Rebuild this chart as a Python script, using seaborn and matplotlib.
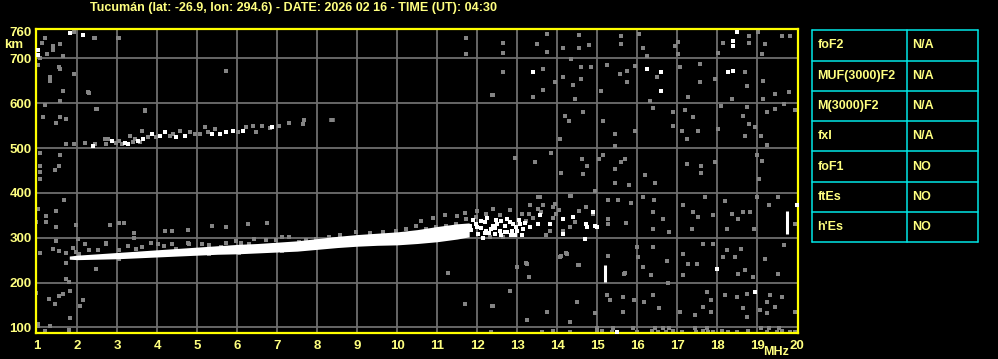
import matplotlib
matplotlib.use("Agg")
import matplotlib.pyplot as plt
import seaborn as sns
import pandas as pd

# ---------------- data ----------------
title_text = "Tucumán (lat: -26.9, lon: 294.6) - DATE: 2026 02 16 - TIME (UT): 04:30"
x_ticks = list(range(1, 21))
y_ticks = [100, 200, 300, 400, 500, 600, 700, 760]

# main F-layer trace (white band): frequency, lower and upper virtual height
trace_f = [1.8, 2.0, 2.5, 3.0, 3.5, 4.0, 4.5, 5.0, 5.5, 6.0, 6.5, 7.0, 7.5, 8.0, 8.5, 9.0, 9.5, 10.0, 10.5, 11.0, 11.5, 11.8]
trace_lo = [252, 251, 252, 253, 255, 257, 259, 261, 263, 264, 266, 268, 270, 274, 278, 281, 283, 284, 287, 291, 297, 302]
trace_hi = [259, 261, 264, 267, 270, 273, 276, 279, 282, 285, 287, 290, 293, 298, 303, 307, 310, 313, 318, 325, 331, 333]

# weak echoes around main trace
halo_f = [1.97, 2.30, 2.51, 2.72, 3.05, 3.26, 3.47, 3.63, 3.84, 4.01, 4.18, 4.38, 4.47, 4.76, 4.80, 5.13, 5.30, 5.59,
          5.72, 5.97, 6.09, 6.30, 6.43, 6.72, 6.97, 7.13, 7.30, 7.55, 7.72, 7.97, 8.30, 8.43, 3.05, 4.30, 5.30, 6.05,
          7.13, 2.05, 8.57, 8.98, 9.32, 9.65, 9.98, 10.23, 10.48, 10.73, 10.98, 11.23, 11.48,
          10.60, 10.90, 11.20, 11.50, 11.70, 12.00, 12.40, 13.30, 13.60, 13.90]
halo_h = [268, 273, 272, 288, 272, 281, 275, 279, 288, 287, 281, 287, 275, 288, 285, 287, 283, 279,
          288, 292, 288, 287, 298, 294, 294, 301, 301, 290, 294, 298, 301, 298, 252, 264, 264, 266,
          270, 264, 307, 312, 310, 312, 316, 320, 325, 320, 324, 327, 331,
          338, 345, 350, 348, 356, 360, 365, 352, 358, 345]

# spread echoes at the top of the trace
spread_w_f = [11.65, 11.82, 11.98, 12.03, 12.19, 12.23, 12.40, 12.48, 12.57, 12.69, 12.82, 12.86, 12.98, 13.07, 13.15,
              13.32, 13.52, 13.57, 13.82, 14.15, 14.40, 14.73, 14.94, 14.69, 14.39, 14.90, 14.74, 14.15, 14.70, 14.99,
              12.10, 12.30, 12.60, 12.75, 12.95, 12.15, 12.45,
              11.85, 11.90, 12.00, 12.10, 12.20, 12.25, 12.35, 12.45, 12.50, 12.60, 12.70, 12.75, 12.85, 12.90,
              13.00, 13.05, 13.12, 13.20]
spread_w_h = [316, 327, 331, 309, 335, 316, 327, 340, 316, 327, 335, 316, 324, 331, 320,
              324, 331, 350, 331, 342, 346, 331, 327, 298, 346, 357, 324, 309, 298, 324,
              322, 311, 305, 312, 306, 300, 322,
              318, 340, 324, 338, 310, 344, 320, 308, 330, 338, 312, 342, 306, 330,
              314, 340, 306, 332]
spread_g_f = [11.98, 12.23, 12.57, 12.82, 13.11, 13.32, 13.52, 13.65, 13.90, 13.98, 13.82, 14.32, 14.15, 14.44, 14.73,
              14.90, 11.73, 13.23, 13.73, 12.94, 12.65, 12.32, 13.57, 13.95, 14.32, 13.40, 14.55, 14.05]
spread_g_h = [346, 353, 350, 361, 353, 372, 364, 372, 368, 353, 316, 324, 316, 335, 368,
              353, 342, 338, 305, 305, 301, 301, 390, 375, 394, 345, 360, 362]

# second hop trace
hop2_w_f = [2.40, 2.86, 3.19, 3.28, 3.53, 3.65, 3.86, 4.07, 4.19, 4.48, 4.69, 5.36, 5.57, 5.73, 5.90, 6.15, 6.86]
hop2_w_h = [505, 516, 512, 509, 516, 520, 531, 527, 535, 524, 527, 531, 531, 535, 538, 538, 547]
hop2_g_f = [2.19, 2.44, 2.69, 2.78, 2.73, 2.98, 3.11, 3.32, 3.44, 3.56, 3.78, 3.98, 4.32, 4.40, 4.57, 4.82, 4.94,
            5.07, 5.19, 5.28, 5.44, 6.03, 6.23, 6.40, 6.48, 6.61, 6.82, 7.05, 7.30, 7.65, 7.67, 7.68, 3.05, 3.40]
hop2_g_h = [512, 509, 520, 520, 509, 512, 509, 527, 520, 513, 524, 524, 527, 531, 538, 535, 531,
            531, 546, 535, 542, 535, 546, 549, 535, 549, 544, 549, 555, 553, 562, 563, 515, 513]

# scattered noise (gray)
noise_f = [12.64, 12.64, 12.64, 12.39, 13.74, 13.49, 13.74, 13.64, 13.64, 13.39, 13.95, 14.14, 14.54, 14.79, 14.55,
           14.35, 14.60, 14.15, 14.39, 14.60, 14.45, 14.85, 15.10, 15.24, 15.60, 15.60, 15.74, 15.95, 15.74, 15.57,
           16.05, 16.24, 16.49, 16.32, 16.15, 17.03, 16.95, 17.03, 17.07, 17.28, 17.57, 17.57, 17.94, 18.03, 18.14,
           18.80, 18.80, 18.70, 18.74, 18.36, 19.03, 19.11, 19.20, 19.61, 19.82, 19.14, 19.45, 19.67, 19.80, 19.15,
           14.20, 14.30, 14.07, 14.64, 15.14, 15.45, 15.45, 15.95, 16.39, 16.90, 16.89, 17.20, 17.40, 17.11, 17.53,
           17.24, 18.10, 18.03, 18.65, 18.74, 18.80, 18.94, 18.70, 19.09, 19.24, 19.24, 19.45, 19.95, 12.95, 13.45,
           13.85, 14.10, 14.61, 14.75, 14.64, 15.05, 15.14, 15.45, 15.60, 15.70, 15.45, 15.80, 16.20, 16.45, 17.24,
           17.60, 17.60, 17.94, 18.99, 19.11, 19.05,
           15.28, 15.53, 15.28, 15.28, 15.85, 16.15, 16.43, 16.40, 16.64, 16.39, 16.80, 17.15, 17.40, 17.53, 17.36,
           17.70, 17.89, 18.20, 18.24, 18.36, 18.53, 18.65, 18.82, 18.92, 18.99, 19.30, 19.53, 19.95, 14.95,
           14.09, 14.55, 14.24, 13.24, 12.99, 13.30, 15.26, 15.68, 15.99, 16.03, 16.15, 16.39, 16.35, 16.74, 17.14,
           17.15, 17.28, 17.49, 17.65, 17.90, 18.15, 18.24, 18.45, 18.60, 18.53, 18.70, 18.90, 19.20, 19.53, 19.67,
           12.82, 12.40, 13.74, 13.24, 14.32, 14.49, 14.95, 15.24, 15.32, 15.64, 15.64, 15.92, 16.17, 16.40, 16.55,
           16.78, 17.07, 17.45, 17.65, 17.74, 17.85, 17.85, 18.20, 18.49, 18.74, 18.64, 18.74, 19.07, 19.24, 19.32,
           19.45, 19.61, 19.95, 19.24,
           12.34, 13.63, 13.90, 14.32, 14.99, 15.11, 15.36, 16.00, 16.36, 16.53, 16.71, 16.90, 17.11, 17.46, 17.65,
           17.78, 17.90, 18.11, 18.28, 18.49, 18.78, 19.24, 19.49, 19.61, 19.82, 19.94, 14.99, 15.40, 15.90, 16.45,
           16.65, 16.80, 17.45, 17.75, 19.10, 19.30, 19.55,
           1.19, 1.13, 1.39, 1.58, 1.39, 1.25, 1.07, 1.64, 1.93, 2.43, 3.04, 1.03, 1.54, 1.58, 1.93,
           1.33, 1.33, 1.64, 2.29, 1.58, 1.19, 2.48, 3.69, 1.15, 1.58, 1.73, 1.48, 3.63, 1.73, 1.93,
           2.19, 1.08, 1.58, 1.08, 1.54, 1.08, 1.44, 1.08, 1.68, 1.03, 1.48, 1.23, 1.23, 0.98, 1.48,
           1.98, 2.83, 3.04, 3.18, 3.43, 3.43, 1.46, 2.03, 2.19, 1.08, 1.39, 1.54, 1.73, 1.90, 2.73,
           1.73, 2.48, 1.73, 1.79, 0.98, 1.64, 1.54, 1.83, 1.29, 1.44, 2.08, 2.14, 1.83, 1.03, 1.03,
           1.33, 1.79, 1.19,
           5.73, 2.28, 2.49, 11.73, 11.73, 12.38, 11.69, 12.38, 4.19, 4.36, 4.78, 5.38, 5.73, 6.28, 6.74,
           11.28, 13.23, 13.52, 14.34, 14.53, 14.22, 14.07, 15.69, 15.72, 3.69, 2.44, 3.03]
noise_h = [734, 712, 669, 619, 754, 732, 715, 676, 630, 615, 647, 723, 752, 730, 723,
           698, 680, 659, 641, 654, 610, 680, 628, 686, 749, 732, 672, 684, 647, 665,
           754, 706, 658, 606, 724, 737, 728, 710, 680, 613, 687, 648, 654, 713, 734,
           749, 734, 670, 639, 610, 759, 709, 732, 750, 750, 650, 621, 598, 624, 610,
           572, 561, 521, 580, 561, 532, 504, 539, 589, 580, 550, 584, 569, 539, 539,
           521, 593, 543, 572, 591, 554, 547, 528, 528, 506, 580, 587, 584, 478, 469,
           489, 445, 476, 460, 443, 476, 484, 454, 470, 476, 421, 418, 441, 421, 465,
           459, 445, 469, 484, 472, 432,
           385, 383, 342, 331, 378, 390, 383, 357, 342, 320, 312, 372, 357, 346, 320,
           390, 350, 381, 320, 353, 342, 357, 357, 320, 390, 373, 390, 331, 405,
           259, 238, 264, 242, 235, 212, 260, 220, 279, 257, 235, 279, 216, 247, 264,
           216, 242, 242, 287, 287, 257, 272, 257, 275, 220, 227, 212, 253, 220, 283,
           181, 148, 135, 116, 112, 157, 131, 172, 161, 168, 135, 161, 157, 172, 142,
           198, 135, 127, 146, 179, 161, 135, 172, 168, 175, 142, 124, 138, 157, 172,
           146, 168, 135, 131,
           90, 90, 91, 90, 90, 91, 90, 90, 91, 90, 90, 91, 90, 90, 91,
           90, 90, 91, 90, 90, 91, 90, 90, 91, 90, 90, 98, 98, 98, 98,
           98, 98, 98, 98, 98, 98, 98,
           745, 735, 728, 732, 718, 710, 700, 706, 758, 745, 745, 686, 680, 676, 665,
           658, 649, 628, 623, 606, 596, 587, 584, 570, 570, 565, 556, 539, 510, 510,
           512, 490, 485, 459, 461, 447, 450, 430, 384, 363, 359, 349, 334, 335, 324,
           328, 328, 332, 332, 310, 300, 292, 297, 287, 265, 275, 270, 265, 278, 285,
           243, 230, 208, 202, 176, 175, 169, 181, 164, 152, 147, 161, 121, 107, 102,
           104, 95, 91,
           672, 624, 588, 746, 710, 618, 152, 147, 314, 314, 318, 327, 324, 331, 332,
           221, 244, 390, 394, 238, 266, 258, 221, 332, 583, 746, 746]

# bright isolated echoes
bright_f = [13.39, 16.24, 16.60, 16.60, 18.39, 18.39, 18.49, 18.40, 18.28, 17.99, 18.94, 19.99, 1.83, 2.14, 1.03,
            1.03, 15.49]
bright_h = [669, 676, 670, 628, 739, 728, 759, 672, 669, 231, 178, 372, 756, 752, 719,
            707, 90]

# vertical echo streaks (frequency, bottom, top)
streak_f = [15.20, 19.74, 8.36]
streak_lo = [201, 309, 558]
streak_hi = [238, 360, 568]

# parameter table
param_names = ["foF2", "MUF(3000)F2", "M(3000)F2", "fxI", "foF1", "ftEs", "h'Es"]
param_values = ["N/A", "N/A", "N/A", "N/A", "NO", "NO", "NO"]

# ---------------- style ----------------
YEL = "#ffff80"
SPINE = "#ffff00"
GRIDC = "#6e6e6e"
GRAY = "#848484"
CYAN = "#00e6e6"
FONT = ["Liberation Sans", "DejaVu Sans"]

sns.set_theme(style="dark", rc={"figure.facecolor": "black", "axes.facecolor": "black"})
plt.rcParams["font.family"] = FONT

W, H = 998, 359
fig = plt.figure(figsize=(W / 100, H / 100), dpi=100)
fig.patch.set_facecolor("black")

ax_l, ax_r, ax_t, ax_b = 35.7, 798.3, 29.3, 332.7
ax = fig.add_axes([ax_l / W, 1 - ax_b / H, (ax_r - ax_l) / W, (ax_b - ax_t) / H])
ax.set_facecolor("black")

ax.set_xlim(0.96, 20.03)
ax.set_ylim(88, 765)

# grid
for xv in x_ticks[1:-1]:
    ax.axvline(xv, color=GRIDC, lw=1.3, zorder=1)
for yv in y_ticks[:-1]:
    ax.axhline(yv, color=GRIDC, lw=1.3, zorder=1)

# main trace band
ax.fill_between(trace_f, trace_lo, trace_hi, color="white", lw=0, zorder=3)

gray_df = pd.DataFrame({
    "f": noise_f + halo_f + spread_g_f + hop2_g_f,
    "h": noise_h + halo_h + spread_g_h + hop2_g_h,
})
white_df = pd.DataFrame({
    "f": bright_f + spread_w_f + hop2_w_f,
    "h": bright_h + spread_w_h + hop2_w_h,
})
sns.scatterplot(data=gray_df, x="f", y="h", ax=ax, marker="s", s=7, color=GRAY,
                linewidth=0, zorder=2, legend=False)
sns.scatterplot(data=white_df, x="f", y="h", ax=ax, marker="s", s=8, color="white",
                linewidth=0, zorder=4, legend=False)
ax.vlines(streak_f[:2], streak_lo[:2], streak_hi[:2], color="white", lw=2.2, zorder=4)
ax.vlines(streak_f[2:], streak_lo[2:], streak_hi[2:], color=GRAY, lw=4, zorder=2)

# axes styling
ax.set_xticks(x_ticks)
ax.set_yticks(y_ticks)
ax.set_xticklabels([str(v) for v in x_ticks])
ax.set_yticklabels([str(v) for v in y_ticks])
ax.tick_params(axis="both", length=0, colors=YEL, labelsize=9.5)
ax.tick_params(axis="x", pad=5)
ax.tick_params(axis="y", pad=3)
for lab in ax.get_xticklabels() + ax.get_yticklabels():
    lab.set_fontweight("bold")
    lab.set_color(YEL)
ax.set_xlabel("")
ax.set_ylabel("")
ax.grid(False)
for sp in ax.spines.values():
    sp.set_color(SPINE)
    sp.set_linewidth(1.6)
    sp.set_visible(True)

fig.text(14 / W, 1 - 45.5 / H, "km", color=YEL, fontsize=9.5, fontweight="bold",
         ha="center", va="center")
fig.text(789 / W, 1 - 352 / H, "MHz", color=YEL, fontsize=9, fontweight="bold",
         ha="right", va="center")
fig.text(294 / W, 1 - 7.5 / H, title_text, color=YEL, fontsize=9, fontweight="bold",
         ha="center", va="center")

# parameter table
t_l, t_r, t_t, t_b, t_mid = 812.3, 977.7, 30.3, 242.3, 907.3
tab = fig.add_axes([0, 0, 1, 1])
tab.set_xlim(0, W)
tab.set_ylim(H, 0)
tab.axis("off")
tab.patch.set_alpha(0)
n = len(param_names)
rh = (t_b - t_t) / n
for i in range(n + 1):
    yy = t_t + i * rh
    tab.plot([t_l, t_r], [yy, yy], color=CYAN, lw=1.1)
for xx in (t_l, t_mid, t_r):
    tab.plot([xx, xx], [t_t, t_b], color=CYAN, lw=1.1)
for i, (nm, vl) in enumerate(zip(param_names, param_values)):
    yc = t_t + (i + 0.5) * rh
    tab.text(t_l + 5, yc, nm, color=YEL, fontsize=9, fontweight="bold", ha="left", va="center")
    tab.text(t_mid + 5, yc, vl, color=YEL, fontsize=9, fontweight="bold", ha="left", va="center")

fig.savefig("out.png", dpi=100, facecolor="black")
